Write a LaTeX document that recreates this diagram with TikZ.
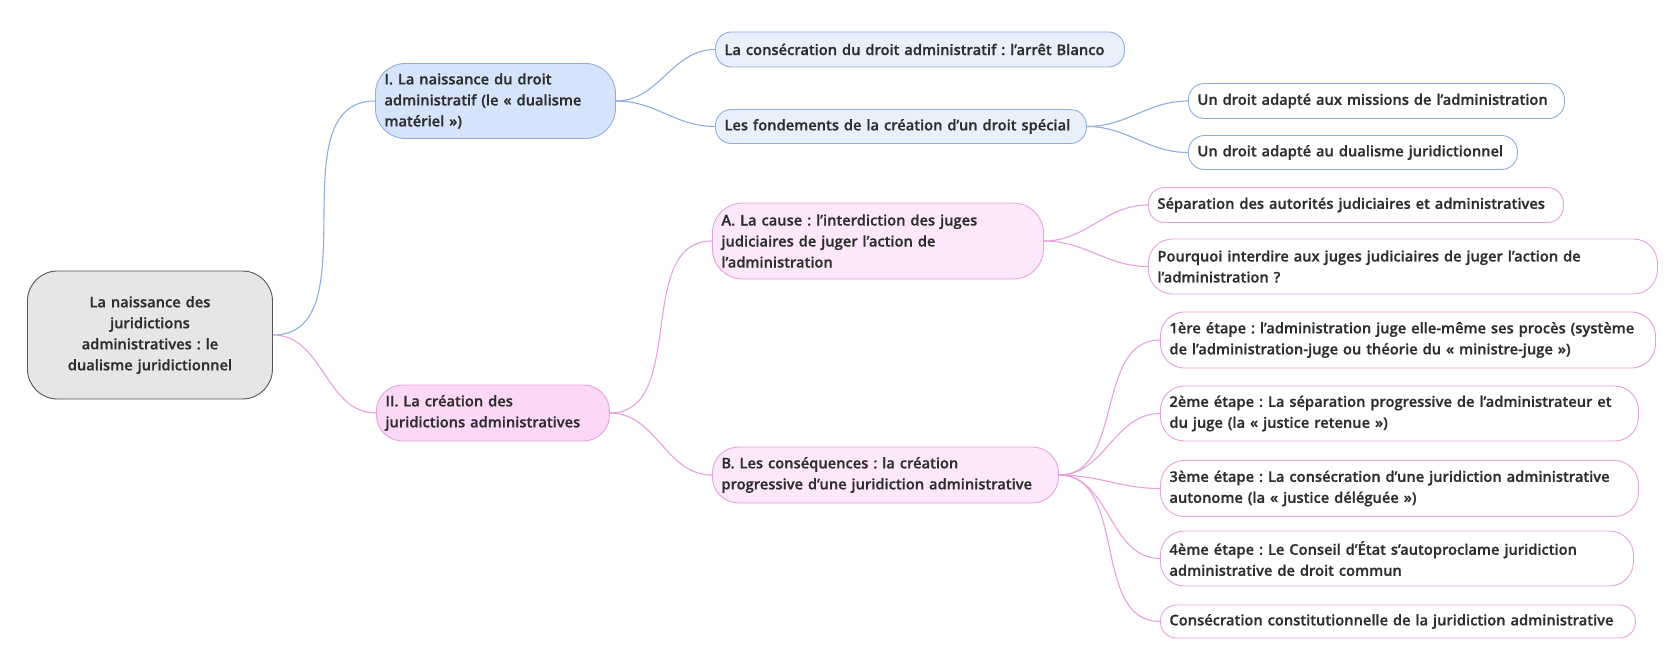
\documentclass[tikz,border=0pt]{standalone}
\usepackage{fontspec}
\setmainfont{Open Sans Semibold}[FakeBold=0.7]
\usepackage{tikz}
\frenchspacing

\definecolor{textgrey}{HTML}{2E2E2E}
\definecolor{rootfill}{HTML}{E6E6E6}
\definecolor{rootline}{HTML}{555555}
\definecolor{bluemainfill}{HTML}{D6E4FB}
\definecolor{bluesubfill}{HTML}{E8F0FC}
\definecolor{blueedge}{HTML}{8DAEDF}
\definecolor{pinkmainfill}{HTML}{FBD8F6}
\definecolor{pinksubfill}{HTML}{FDE8FB}
\definecolor{pinkedge}{HTML}{E6A2DE}

\tikzstyle{box} = [draw, line width=0.9pt, anchor=west, inner xsep=9pt, inner ysep=0pt, align=left, rounded corners=16pt, text=textgrey, font=\fontsize{14.7}{21}\selectfont]
\tikzstyle{rootnode} = [box, draw=rootline, fill=rootfill, align=center, rounded corners=30pt]
\tikzstyle{bluemain} = [box, draw=blueedge, fill=bluemainfill]
\tikzstyle{bluesub} = [box, draw=blueedge, fill=bluesubfill]
\tikzstyle{blueleaf} = [box, draw=blueedge, fill=white]
\tikzstyle{pinkmain} = [box, draw=pinkedge, fill=pinkmainfill]
\tikzstyle{pinksub} = [box, draw=pinkedge, fill=pinksubfill]
\tikzstyle{pinkleaf} = [box, draw=pinkedge, fill=white]
\tikzset{
  blueline/.style={draw=blueedge, line width=1.1pt},
  pinkline/.style={draw=pinkedge, line width=1.1pt}
}

\begin{document}
\begin{tikzpicture}[x=1pt, y=-1pt]
	\useasboundingbox (0,0) rectangle (1671,666);

	\node[rootnode, text width=227pt, minimum height=128pt] (root) at (27,335) {La naissance des\\juridictions\\administratives : le\\dualisme juridictionnel};

	\node[bluemain, text width=222pt, minimum height=75pt, rounded corners=30pt] (naissance) at (375,101) {I. La naissance du droit\\administratif (le « dualisme\\matériel »)};
	\node[bluesub, text width=391pt, minimum height=35pt] (blanco) at (715,49.5) {La consécration du droit administratif : l’arrêt Blanco};
	\node[bluesub, text width=353pt, minimum height=34pt] (fondements) at (715,126.5) {Les fondements de la création d’un droit spécial};
	\node[blueleaf, text width=358pt, minimum height=35pt] (missions) at (1188,101) {Un droit adapté aux missions de l’administration};
	\node[blueleaf, text width=311pt, minimum height=34pt] (dualisme) at (1188,152.5) {Un droit adapté au dualisme juridictionnel};

	\node[pinkmain, text width=215pt, minimum height=56pt, rounded corners=26pt] (creation) at (376,413) {II. La création des\\juridictions administratives};
	\node[pinksub, text width=313pt, minimum height=76pt, rounded corners=30pt] (cause) at (712,241) {A. La cause : l’interdiction des juges\\judiciaires de juger l’action de\\l’administration};
	\node[pinksub, text width=328pt, minimum height=56pt, rounded corners=26pt] (consequences) at (712,475) {B. Les conséquences : la création\\progressive d’une juridiction administrative};
	\node[pinkleaf, text width=397pt, minimum height=35pt] (separation) at (1148,205) {Séparation des autorités judiciaires et administratives};
	\node[pinkleaf, text width=491pt, minimum height=55pt, rounded corners=24pt] (pourquoi) at (1148,266.5) {Pourquoi interdire aux juges judiciaires de juger l’action de\\l’administration ?};
	\node[pinkleaf, text width=477pt, minimum height=56pt, rounded corners=24pt] (etape1) at (1160,340) {1ère étape : l’administration juge elle-même ses procès (système\\de l’administration-juge ou théorie du « ministre-juge »)};
	\node[pinkleaf, text width=460pt, minimum height=55pt, rounded corners=24pt] (etape2) at (1160,413.5) {2ème étape : La séparation progressive de l’administrateur et\\du juge (la « justice retenue »)};
	\node[pinkleaf, text width=460pt, minimum height=56pt, rounded corners=24pt] (etape3) at (1160,488.5) {3ème étape : La consécration d’une juridiction administrative\\autonome (la « justice déléguée »)};
	\node[pinkleaf, text width=455pt, minimum height=55pt, rounded corners=24pt] (etape4) at (1160,558.5) {4ème étape : Le Conseil d’État s’autoproclame juridiction\\administrative de droit commun};
	\node[pinkleaf, text width=457pt, minimum height=33pt] (constit) at (1160,621.5) {Consécration constitutionnelle de la juridiction administrative};

	\draw [blueline] (root.east) to[out=0,in=180] (naissance.west);
	\draw [blueline] (naissance.east) to[out=0,in=180] (blanco.west);
	\draw [blueline] (naissance.east) to[out=0,in=180] (fondements.west);
	\draw [blueline] (fondements.east) to[out=0,in=180] (missions.west);
	\draw [blueline] (fondements.east) to[out=0,in=180] (dualisme.west);

	\draw [pinkline] (root.east) to[out=0,in=180] (creation.west);
	\draw [pinkline] (creation.east) to[out=0,in=180] (cause.west);
	\draw [pinkline] (creation.east) to[out=0,in=180] (consequences.west);
	\draw [pinkline] (cause.east) to[out=0,in=180] (separation.west);
	\draw [pinkline] (cause.east) to[out=0,in=180] (pourquoi.west);
	\foreach \n in {etape1,etape2,etape3,etape4,constit}
		\draw [pinkline] (consequences.east) to[out=0,in=180] (\n.west);

\end{tikzpicture}
\end{document}
